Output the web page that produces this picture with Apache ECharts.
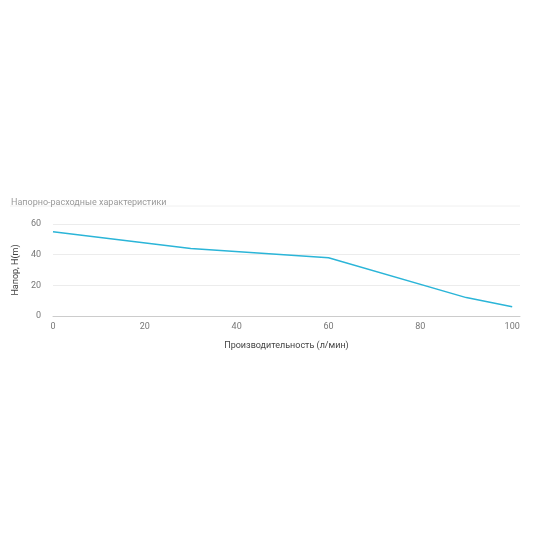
<!DOCTYPE html>
<html>
<head>
<meta charset="utf-8">
<script src="https://cdn.jsdelivr.net/npm/echarts@6/dist/echarts.min.js"></script>
<style>
  html, body { margin: 0; padding: 0; background: #fff; }
  #chart { width: 550px; height: 550px; }
</style>
</head>
<body>
<div id="chart"></div>
<script>
const flow = [0, 30, 60, 90, 100];
const head = [55, 44, 38, 12, 6];
const titleText = "Напорно-расходные характеристики";

const chart = echarts.init(document.getElementById("chart"));

chart.setOption({
  animation: false,
  textStyle: { fontFamily: "Roboto" },
  title: {
    text: titleText,
    left: 6,
    top: 193,
    textStyle: { fontSize: 9, fontWeight: "normal", color: "#999" },
  },
  graphic: [
    {
      type: "line",
      shape: { x1: 10, y1: 206, x2: 520, y2: 206 },
      style: { stroke: "#f0f0f0", lineWidth: 1 },
    },
  ],
  grid: { left: 53, right: 30, top: 224, bottom: 234 },
  xAxis: {
    type: "value",
    min: 0,
    max: 101.7,
    interval: 20,
    name: "Производительность (л/мин)",
    nameLocation: "middle",
    nameGap: 25,
    nameTextStyle: { fontSize: 9, color: "#444" },
    axisLine: { lineStyle: { color: "#ccc" } },
    axisTick: { show: false },
    axisLabel: { fontSize: 9, color: "#777", showMaxLabel: false, margin: 6 },
    splitLine: { show: false },
  },
  yAxis: {
    type: "value",
    min: 0,
    max: 60,
    interval: 20,
    name: "Напор, H(m)",
    nameLocation: "middle",
    nameGap: 30,
    nameTextStyle: { fontSize: 9, color: "#444" },
    axisLine: { show: false },
    axisTick: { show: false },
    axisLabel: { fontSize: 9, color: "#777", margin: 12 },
    splitLine: { lineStyle: { color: "#ececec" } },
  },
  series: [
    {
      type: "line",
      data: flow.map((x, i) => [x, head[i]]),
      showSymbol: false,
      lineStyle: { color: "#2bb5d8", width: 1.5 },
    },
  ],
});
</script>
</body>
</html>
